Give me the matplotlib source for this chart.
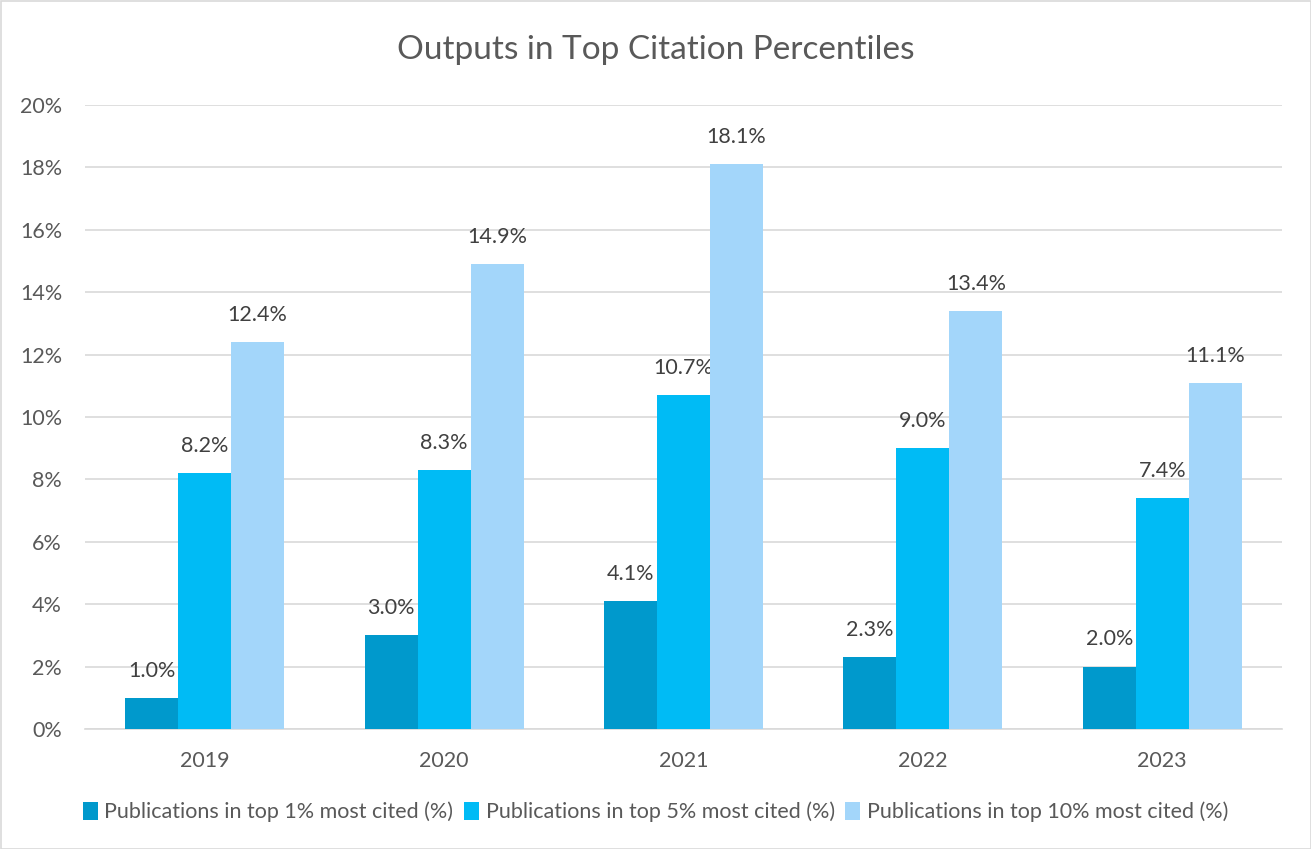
import matplotlib
matplotlib.use("Agg")
import matplotlib.pyplot as plt
import numpy as np
from matplotlib.patches import Rectangle

plt.rcParams['font.family'] = ['Lato', 'DejaVu Sans']

years = ["2019", "2020", "2021", "2022", "2023"]
series_names = ["Publications in top 1% most cited (%)",
                "Publications in top 5% most cited (%)",
                "Publications in top 10% most cited (%)"]
top1 = [1.0, 3.0, 4.1, 2.3, 2.0]
top5 = [8.2, 8.3, 10.7, 9.0, 7.4]
top10 = [12.4, 14.9, 18.1, 13.4, 11.1]
yticks = [0, 2, 4, 6, 8, 10, 12, 14, 16, 18, 20]
colors = ["#0099CC", "#00BBF5", "#A3D6FA"]

W, H = 1311, 849
fig = plt.figure(figsize=(W/100, H/100), dpi=100)
ax = fig.add_axes([85/W, 1-729/H, (1282-85)/W, (729-105)/H])

x = np.arange(len(years))
bw = 0.2214
for i, (vals, name, c) in enumerate(zip([top1, top5, top10], series_names, colors)):
    pos = x + (i-1)*bw
    ax.bar(pos, vals, width=bw, color=c, label=name, zorder=3, edgecolor='none')
    for p, v in zip(pos, vals):
        ax.text(p, v + 0.55, f"{v:.1f}%", ha='center', va='bottom', fontsize=15.5, color='#404040')

ax.set_xlim(-0.5, len(years)-0.5)
ax.set_ylim(0, 20)
ax.set_yticks(yticks)
ax.set_yticklabels([f"{t}%" for t in yticks])
ax.set_xticks(x)
ax.set_xticklabels(years)
ax.tick_params(axis='both', length=0, labelsize=15.5, colors='#595959')
ax.tick_params(axis='x', pad=16)
ax.tick_params(axis='y', pad=16.5)
ax.grid(axis='y', color='#D9D9D9', linewidth=1.2, zorder=0)
for s in ['top', 'right', 'left']:
    ax.spines[s].set_visible(False)
ax.spines['bottom'].set_color('#D9D9D9')
ax.spines['bottom'].set_linewidth(1.2)

fig.text(0.5, 1-50/H, "Outputs in Top Citation Percentiles", ha='center', va='center',
         fontsize=24, color='#595959')

leg = fig.legend(loc='center', bbox_to_anchor=(0.5, 1-812/H), ncol=3, frameon=False,
                 fontsize=15.5, handlelength=0.7, handleheight=0.9, handletextpad=0.3,
                 columnspacing=0.5, labelcolor='#595959')

fig.patches.append(Rectangle((0.5/W, 0.5/H), 1-1/W, 1-1/H, transform=fig.transFigure,
                             fill=False, edgecolor='#D9D9D9', linewidth=1.2))

fig.savefig("out.png", dpi=100)
